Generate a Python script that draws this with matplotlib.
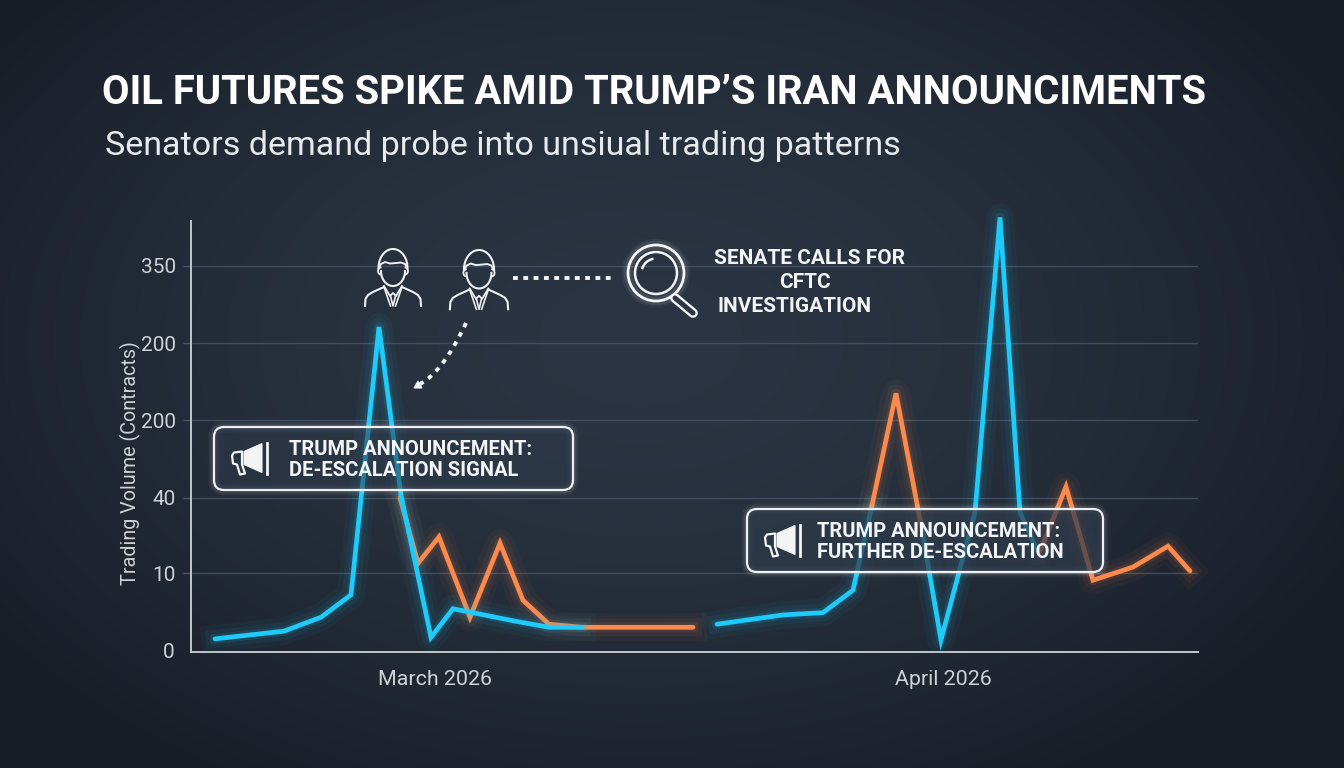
import numpy as np
import matplotlib
matplotlib.use('Agg')
import matplotlib.pyplot as plt
from matplotlib.patches import FancyBboxPatch, Circle, Polygon, Arc, PathPatch
from matplotlib.path import Path

plt.rcParams['font.family'] = ['Roboto', 'DejaVu Sans']

# timeline position along the axis and height in tick bands
y_tick_pos = [0, 1.02, 2, 3, 4, 5]
y_tick_labels = ['0', '10', '40', '200', '200', '350']

march_blue_x = [24, 93, 130, 160, 188, 210, 240, 262, 324, 358, 391]
march_blue_y = [0.17, 0.27, 0.45, 0.74, 4.21, 2.03, 0.19, 0.56, 0.40, 0.32, 0.32]
march_orange_x = [209, 227, 248, 279, 309, 332, 358, 391, 502]
march_orange_y = [2.00, 1.15, 1.49, 0.45, 1.41, 0.67, 0.36, 0.32, 0.32]

april_blue_a_x = [526, 592, 632, 662, 681]
april_blue_a_y = [0.36, 0.48, 0.51, 0.80, 1.90]
april_orange_a_x = [681, 705, 731]
april_orange_a_y = [1.90, 3.35, 1.58]
april_blue_b_x = [731, 750, 784, 809, 829, 846]
april_blue_b_y = [1.58, 0.155, 1.81, 5.63, 1.81, 1.32]
april_orange_b_x = [849, 875, 902, 942, 977, 999]
april_orange_b_y = [1.30, 2.14, 0.93, 1.10, 1.37, 1.05]

BLUE = '#1ecbfb'
ORANGE = '#fb8a4c'
WHITE = '#f2f4f6'
GREY = '#cdd2d7'

fig = plt.figure(figsize=(13.44, 7.68), dpi=100)

# backdrop with a soft vignette
bg = fig.add_axes([0, 0, 1, 1], zorder=0)
bg.axis('off')
yy, xx = np.mgrid[0:768, 0:1344]
r = np.sqrt(((xx - 640) / 800) ** 2 + ((yy - 340) / 520) ** 2)
r = np.clip(r, 0, 1)
inner = np.array([0x2b, 0x35, 0x43])
outer = np.array([0x18, 0x1e, 0x28])
img = inner + (outer - inner) * (r ** 1.6)[..., None]
bg.imshow(img / 255, extent=(0, 1344, 768, 0), aspect='auto', interpolation='bilinear')
bg.set_xlim(0, 1344)
bg.set_ylim(768, 0)

# chart axes
ax = fig.add_axes([191 / 1344, (768 - 652) / 768, 1007 / 1344, 431 / 768], zorder=1)
ax.patch.set_alpha(0)
ax.set_xlim(0, 1007)
ax.set_ylim(0, 431 / 77.2)
for side in ['top', 'right']:
    ax.spines[side].set_visible(False)
for side in ['left', 'bottom']:
    ax.spines[side].set_color('#c2c7cd')
    ax.spines[side].set_linewidth(1.4)
ax.set_xticks([])
ax.set_yticks(y_tick_pos[1:])
ax.set_yticklabels(y_tick_labels[1:], color=GREY, fontsize=15)
ax.tick_params(axis='y', length=6, width=1, color='#4a5666', pad=5)
ax.grid(axis='y', color='#465365', lw=1, alpha=0.85)
ax.set_axisbelow(True)
ax.text(-17, 0, y_tick_labels[0], color=GREY, fontsize=15, ha='right', va='center')
ax.text(244, -0.36, 'March 2026', color=GREY, fontsize=15.4, ha='center', va='center')
ax.text(752, -0.36, 'April 2026', color=GREY, fontsize=15.4, ha='center', va='center')
ax.text(-61, 2.45, 'Trading Volume (Contracts)', color=GREY, fontsize=14.2, rotation=90,
        ha='center', va='center')


def glow_line(x, y, color, z):
    for lw, a in [(20, 0.04), (13, 0.06), (7, 0.10)]:
        ax.plot(x, y, color=color, lw=lw, alpha=a, solid_joinstyle='round', zorder=z, clip_on=False)
    ax.plot(x, y, color=color, lw=3.4, solid_joinstyle='miter', solid_capstyle='round', zorder=z + 0.1, clip_on=False)


glow_line(march_orange_x, march_orange_y, ORANGE, 3)
glow_line(march_blue_x, march_blue_y, BLUE, 4)
glow_line(april_blue_a_x, april_blue_a_y, BLUE, 3)
glow_line(april_orange_a_x, april_orange_a_y, ORANGE, 3)
glow_line(april_blue_b_x, april_blue_b_y, BLUE, 3)
glow_line(april_orange_b_x, april_orange_b_y, ORANGE, 3)

# overlay for title, callouts and icons
ov = fig.add_axes([0, 0, 1, 1], zorder=2)
ov.set_xlim(0, 1344)
ov.set_ylim(768, 0)
ov.axis('off')
ov.patch.set_alpha(0)

ov.text(102, 93, 'OIL FUTURES SPIKE AMID TRUMP\u2019S IRAN ANNOUNCIMENTS', color='#ffffff',
        fontsize=28.8, fontweight='bold', va='center', ha='left')
ov.text(105, 146, 'Senators demand probe into unsiual trading patterns', color='#e8ebee',
        fontsize=24.5, fontweight='normal', va='center', ha='left')


def megaphone(x, cy):
    ov.add_patch(Polygon([(x + 12, cy - 7), (x + 30, cy - 15), (x + 30, cy + 14), (x + 12, cy + 6)],
                         fc=WHITE, ec=WHITE, lw=0.8))
    ov.plot([x + 35, x + 35], [cy - 16, cy + 15], color=WHITE, lw=2)
    verts = [(x + 10, cy - 7), (x + 2, cy - 6), (x, cy - 3), (x + 1, cy + 5), (x + 5, cy + 6),
             (x + 8, cy + 16), (x + 13, cy + 15), (x + 10, cy + 6)]
    ov.add_patch(Polygon(verts, fc='none', ec=WHITE, lw=1.6, joinstyle='round'))


def callout(x0, y0, x1, y1, line1, line2, tx, alpha):
    style = 'round,pad=0,rounding_size=10'
    for lw, a in [(8, 0.05), (5, 0.08)]:
        ov.add_patch(FancyBboxPatch((x0, y0), x1 - x0, y1 - y0, boxstyle=style, fc='none', ec='white', lw=lw, alpha=a))
    ov.add_patch(FancyBboxPatch((x0, y0), x1 - x0, y1 - y0, boxstyle=style, fc='#2f3b4b', alpha=alpha, ec='none'))
    ov.add_patch(FancyBboxPatch((x0, y0), x1 - x0, y1 - y0, boxstyle=style, fc='none', ec='#eef1f3', lw=1.6))
    ov.text(tx, (y0 * 2 + y1) / 3 + 1.5, line1, color=WHITE, fontsize=14.5, fontweight='bold', va='center')
    ov.text(tx, (y0 + y1 * 2) / 3 + 2, line2, color=WHITE, fontsize=14.5, fontweight='bold', va='center')
    megaphone(x0 + 18, (y0 + y1) / 2)


def person(cx, top, s):
    # line-art figure: hair dome, hairline, face, ears, shoulders, collar and tie
    col = '#eef1f3'

    def draw(px, py, lw=1.5):
        ov.plot(cx + s * np.asarray(px), top + s * np.asarray(py), color=col, lw=lw, solid_joinstyle='round')

    t = np.linspace(0, np.pi, 40)
    draw(14.5 * np.cos(t), 19 - 19 * np.sin(t))
    draw([-14, -12, -8, -3, 3, 8, 12, 14], [19, 15, 13, 14.5, 14, 13.5, 15, 19], 1.4)
    draw(12 * np.cos(t), 22 + 15 * np.sin(t))
    tt = np.linspace(-1.4, 1.4, 12)
    draw(-12 - 3 * np.cos(tt), 22 + 3.5 * np.sin(tt), 1.3)
    draw(12 + 3 * np.cos(tt), 22 + 3.5 * np.sin(tt), 1.3)
    draw([-28, -27.5, -25, -20, -9], [57, 50, 46, 43, 38])
    draw([28, 27.5, 25, 20, 9], [57, 50, 46, 43, 38])
    draw([-9, -3, 0, 3, 9], [37, 47, 44, 47, 37], 1.3)
    draw([-9, -2.5], [38, 57], 1.2)
    draw([9, 2.5], [38, 57], 1.2)
    draw([-2.5, 0, 2.5], [47, 57, 47], 1.2)


person(393, 249, 1.0)
person(479, 250, 1.04)

# dotted links from the senators
ov.plot([513, 614], [278, 278], color=WHITE, lw=2.8, dashes=(1.25, 1.4), dash_capstyle='butt')
link = Path([(466, 323), (443, 372), (420, 384)], [Path.MOVETO, Path.CURVE3, Path.CURVE3])
ov.add_patch(PathPatch(link, fc='none', ec=WHITE, lw=2.8, linestyle=(0, (1.2, 1.5))))
ov.add_patch(Polygon([(414, 388), (422, 388), (418, 381)], fc=WHITE, ec=WHITE, lw=0.8))

# magnifier
for lw, a in [(9, 0.05), (6, 0.08)]:
    ov.add_patch(Circle((656, 273), 28, fc='none', ec='white', lw=lw, alpha=a))
ov.add_patch(Circle((656, 273), 28, fc='none', ec='#f4f6f7', lw=2))
ov.add_patch(Circle((656, 273), 21, fc='none', ec='#f4f6f7', lw=1.8))
ov.add_patch(Arc((656, 273), 29, 29, theta1=195, theta2=260, ec='#f4f6f7', lw=1.8))
ov.plot([675, 693], [298, 313], color='#f4f6f7', lw=7, solid_capstyle='round')
ov.plot([675, 693], [298, 313], color='#2c3644', lw=3.6, solid_capstyle='round')

ov.text(810, 258, 'SENATE CALLS FOR', color=WHITE, fontsize=15, fontweight='bold', ha='center', va='center')
ov.text(805, 282, 'CFTC', color=WHITE, fontsize=15, fontweight='bold', ha='center', va='center')
ov.text(795, 306, 'INVESTIGATION', color=WHITE, fontsize=15, fontweight='bold', ha='center', va='center')

callout(214, 427, 573, 490, 'TRUMP ANNOUNCEMENT:', 'DE-ESCALATION SIGNAL', 289, 0.55)
callout(747, 509, 1103, 572, 'TRUMP ANNOUNCEMENT:', 'FURTHER DE-ESCALATION', 817, 0.72)

fig.savefig('out.png', dpi=100)
